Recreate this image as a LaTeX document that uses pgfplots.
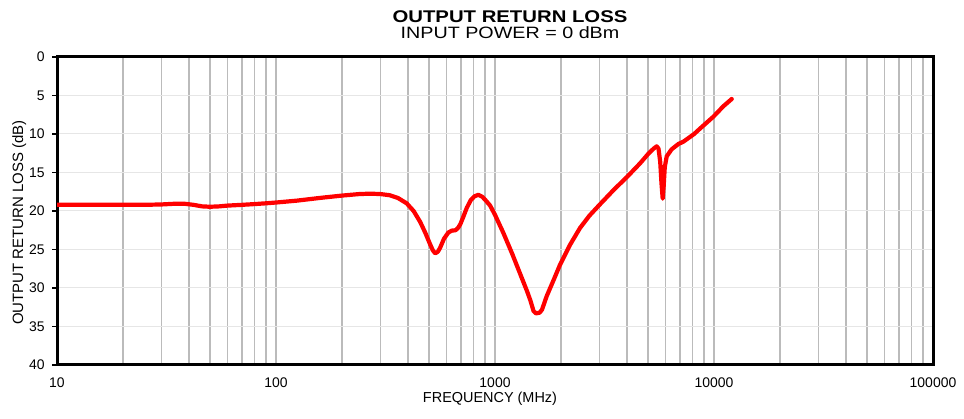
\documentclass[border=0pt]{standalone}
\usepackage{fontspec}
\setmainfont{Liberation Sans}
\newfontfamily\titlefont[FakeStretch=1.2]{Liberation Sans}
\usepackage{pgfplots}
\pgfplotsset{compat=1.18}
\definecolor{vgrid}{RGB}{187,187,187}
\definecolor{hgrid}{RGB}{230,230,230}
\begin{document}
\begin{tikzpicture}
\begin{axis}[
  name=ax,
  scale only axis, width=876bp, height=308bp,
  xmode=log, xmin=10, xmax=100000,
  ymin=0, ymax=40, y dir=reverse,
  ytick={0,5,...,40},
  xtick={10,100,1000,10000,100000},
  xticklabels={10,100,1000,10000,100000},
  xmajorgrids, xminorgrids, ymajorgrids,
  x grid style={color=vgrid, line width=1.3bp},
  y grid style={color=hgrid, line width=1bp},
  axis line style={line width=3bp},
  tick align=outside,
  ytick pos=left,
  major tick length=5bp,
  minor tick length=0pt,
  xtick style={draw=none},
  ytick style={black, line width=1.2bp},
  xticklabel style={font=\fontsize{14}{16}\selectfont, yshift=-4bp},
  yticklabel style={font=\fontsize{14}{16}\selectfont, xshift=-4bp},
  /pgf/number format/assume math mode=true,
  xlabel={FREQUENCY (MHz)},
  ylabel={OUTPUT RETURN LOSS (dB)},
  every axis x label/.style={at={(axis description cs:0.5,0)}, anchor=base, yshift=-37.7bp, xshift=-5bp, font=\fontsize{14.5}{16}\selectfont},
  every axis y label/.style={at={(axis description cs:-0.0430,0.462)}, rotate=90, anchor=center, font=\fontsize{15}{16}\selectfont},
]
\addplot[red, line width=4.2bp, line join=round, line cap=round] coordinates {
(10,19.2) (15,19.2) (20,19.2) (25,19.2) (30,19.15) (35,19.05) (38,19.05)
(42,19.2) (46,19.4) (50,19.45) (55,19.4) (60,19.3) (70,19.2) (80,19.1)
(90,19.0) (100,18.9) (125,18.65) (159,18.3) (200,18.0) (240,17.8)
(270,17.75) (300,17.8) (330,17.95) (360,18.3) (395,19.0) (425,20.0)
(455,21.4) (480,22.8) (505,24.3) (520,25.1) (533,25.5) (548,25.3)
(561,24.8) (585,23.6) (612,22.8) (635,22.55) (660,22.5) (678,22.2)
(695,21.7) (718,20.7) (743,19.6) (775,18.6) (805,18.1) (839,17.9)
(875,18.15) (912,18.7) (950,19.3) (1000,20.5) (1090,22.8) (1200,25.6)
(1300,28.1) (1400,30.4) (1450,31.6) (1500,33.0) (1540,33.3) (1600,33.2)
(1640,32.8) (1720,31.1) (1850,29.0) (1980,27.0) (2200,24.4) (2445,22.2)
(2700,20.6) (3000,19.2) (3500,17.2) (4000,15.6) (4600,13.8) (5000,12.6)
(5300,11.9) (5473,11.6) (5580,11.9) (5680,13.6) (5760,16.5) (5830,18.4)
(5890,16.8) (5960,14.3) (6083,12.9) (6400,12.0) (6875,11.3) (7245,11.0)
(8114,10.0) (8630,9.3) (9935,7.75) (11030,6.4) (12050,5.45)
};
\end{axis}
\node[anchor=base, font=\titlefont\bfseries\fontsize{17}{20}\selectfont] at ([xshift=15bp,yshift=34.3bp]ax.north) {OUTPUT RETURN LOSS};
\node[anchor=base, font=\titlefont\fontsize{16.5}{20}\selectfont] at ([xshift=15bp,yshift=18.7bp]ax.north) {INPUT POWER = 0 dBm};
\pgfresetboundingbox
\path ([xshift=-57bp,yshift=-54bp]ax.south west) rectangle ([xshift=31bp,yshift=57bp]ax.north east);
\end{tikzpicture}
\end{document}
